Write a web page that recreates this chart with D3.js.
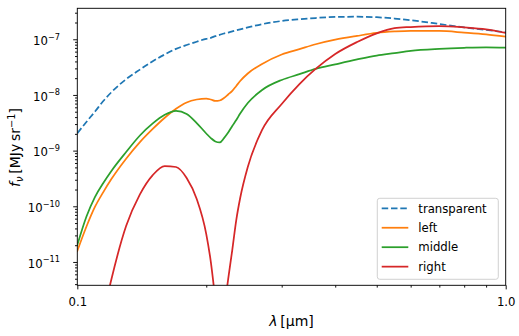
<!DOCTYPE html>
<html><head><meta charset="utf-8">
<script src="https://cdn.jsdelivr.net/npm/d3@7"></script>
<style>body{margin:0;background:#fff} svg{display:block} text{font-family:"DejaVu Sans",sans-serif;fill:#000}</style>
</head><body><svg id="c" width="519" height="336"></svg>
<script>
// wavelength grid in micrometres
const wavelength = [0.1,0.105,0.11,0.115,0.12,0.13,0.14,0.15,0.16,0.17,0.18,0.19,0.2,0.205,0.21,0.215,0.22,0.225,0.23,0.235,0.24,0.25,0.27,0.3,0.33,0.36,0.4,0.45,0.5,0.55,0.6,0.7,0.8,0.9,1.0];
const transparentFlux = [2.05e-9,3.27e-9,5.04e-9,7.79e-9,1.11e-8,1.92e-8,2.85e-8,4.03e-8,5.33e-8,6.72e-8,7.90e-8,9.02e-8,1.02e-7,1.06e-7,1.14e-7,1.20e-7,1.27e-7,1.32e-7,1.39e-7,1.45e-7,1.51e-7,1.63e-7,1.87e-7,2.13e-7,2.29e-7,2.41e-7,2.52e-7,2.54e-7,2.49e-7,2.36e-7,2.20e-7,1.88e-7,1.63e-7,1.47e-7,1.34e-7];
const leftFlux = [1.57e-11,4.29e-11,9.82e-11,1.80e-10,3.05e-10,7.15e-10,1.42e-9,2.45e-9,3.89e-9,5.64e-9,7.32e-9,8.28e-9,8.63e-9,8.28e-9,7.79e-9,7.95e-9,8.82e-9,1.02e-8,1.18e-8,1.45e-8,1.78e-8,2.43e-8,3.60e-8,5.33e-8,6.64e-8,8.13e-8,9.83e-8,1.15e-7,1.30e-7,1.38e-7,1.42e-7,1.41e-7,1.32e-7,1.23e-7,1.12e-7];
const middleFlux = [2.01e-11,6.49e-11,1.48e-10,2.62e-10,4.27e-10,9.44e-10,1.87e-9,3.08e-9,4.40e-9,5.19e-9,4.55e-9,3.13e-9,2.03e-9,1.68e-9,1.46e-9,1.40e-9,1.68e-9,2.11e-9,2.77e-9,3.55e-9,4.64e-9,7.17e-9,1.23e-8,1.86e-8,2.36e-8,2.93e-8,3.54e-8,4.34e-8,5.10e-8,5.65e-8,6.21e-8,6.75e-8,7.04e-8,7.18e-8,7.06e-8];
const rightFlux = [null,null,null,1.11e-12,4.73e-12,4.42e-11,1.64e-10,3.64e-10,5.29e-10,5.08e-10,3.22e-10,1.35e-10,3.17e-11,9.96e-12,2.07e-12,3.95e-13,1.37e-12,4.93e-12,1.64e-11,5.66e-11,1.41e-10,5.08e-10,2.35e-9,6.88e-9,1.57e-8,2.93e-8,5.44e-8,8.94e-8,1.28e-7,1.58e-7,1.66e-7,1.73e-7,1.64e-7,1.51e-7,1.30e-7];
const seriesNames = ["transparent","left","middle","right"];
const seriesColors = ["#1f77b4","#ff7f0e","#2ca02c","#d62728"];
const xTickValues = [0.1,1.0];
const xTickLabels = ["0.1","1.0"];
const yTickExponents = [-11,-10,-9,-8,-7];

const series = [transparentFlux,leftFlux,middleFlux,rightFlux].map((vals,i)=>({
  name: seriesNames[i], color: seriesColors[i], dashed: i===0,
  points: wavelength.map((w,j)=>[w, vals[j]])
}));

const svg = d3.select("#c");
const L = 77.3, R = 505.7, T = 8.3, B = 285.3;
const x = d3.scaleLog().domain([0.1,1.0]).range([L,R]);
const y = d3.scaleLog().domain([3.81e-12,3.6e-7]).range([B,T]);

svg.append("defs").append("clipPath").attr("id","clip")
  .append("rect").attr("x",L).attr("y",T).attr("width",R-L).attr("height",B-T);

const line = d3.line().defined(d=>d[1]!=null)
  .x(d=>x(d[0])).y(d=>y(d[1])).curve(d3.curveMonotoneX);

const g = svg.append("g").attr("clip-path","url(#clip)");
series.forEach(s=>{
  g.append("path").attr("d", line(s.points)).attr("fill","none")
   .attr("stroke", s.color).attr("stroke-width",1.75)
   .attr("stroke-dasharray", s.dashed ? "6.5,2.8" : null)
   .attr("stroke-linecap", s.dashed ? "butt" : "square");
});

// axes
const tickW = 0.93;
const xMinor = d3.range(2,10).map(k=>k/10);
svg.append("g").attr("transform",`translate(0,${B})`)
  .call(d3.axisBottom(x).tickValues(xMinor).tickSize(2.3).tickFormat(""))
  .call(a=>{a.select(".domain").remove(); a.selectAll("line").attr("stroke-width",tickW);});
const xAx = svg.append("g").attr("transform",`translate(0,${B})`)
  .call(d3.axisBottom(x).tickValues(xTickValues).tickSize(4.1).tickPadding(3)
    .tickFormat((d,i)=>xTickLabels[i]));
xAx.select(".domain").remove();
xAx.selectAll("line").attr("stroke-width",tickW);
xAx.selectAll("text").attr("font-size","11.7px").attr("font-family","DejaVu Sans").attr("dy",null).attr("y",20.5);

const yMinor = [];
for (let e=-12;e<=-7;e++) for (let k=2;k<=9;k++){ const v=k*Math.pow(10,e); if (v>=3.81e-12 && v<=3.6e-7) yMinor.push(v); }
svg.append("g").attr("transform",`translate(${L},0)`)
  .call(d3.axisLeft(y).tickValues(yMinor).tickSize(2.3).tickFormat(""))
  .call(a=>{a.select(".domain").remove(); a.selectAll("line").attr("stroke-width",tickW);});
const yMajor = yTickExponents.map(e=>Math.pow(10,e));
const yAx = svg.append("g").attr("transform",`translate(${L},0)`)
  .call(d3.axisLeft(y).tickValues(yMajor).tickSize(4.1).tickFormat(""));
yAx.select(".domain").remove();
yAx.selectAll("line").attr("stroke-width",tickW);
yTickExponents.forEach(e=>{
  const t = svg.append("text").attr("x",60).attr("y",y(Math.pow(10,e))+5.6)
    .attr("text-anchor","end").attr("font-size","11.7px");
  t.append("tspan").text("10");
  t.append("tspan").attr("dy",-5.2).attr("font-size","8.2px").text("\u2212"+Math.abs(e));
});

// frame
svg.append("rect").attr("x",L).attr("y",T).attr("width",R-L).attr("height",B-T)
  .attr("fill","none").attr("stroke","#000").attr("stroke-width",tickW);

// axis labels
const xl = svg.append("text").attr("x",291.5).attr("y",326).attr("text-anchor","middle").attr("font-size","14px");
xl.append("tspan").attr("font-style","italic").text("\u03bb");
xl.append("tspan").text("\u2009[\u03bcm]");

const yl = svg.append("text").attr("transform","translate(20,147.5) rotate(-90)")
  .attr("text-anchor","middle").attr("font-size","14px");
yl.append("tspan").attr("font-style","italic").text("f");
yl.append("tspan").attr("font-style","italic").attr("font-size","9.8px").attr("dy",3).text("\u03bd");
yl.append("tspan").attr("dy",-3).text("\u2009[MJy\u2009sr");
yl.append("tspan").attr("dy",-5.5).attr("font-size","9.8px").text("\u22121");
yl.append("tspan").attr("dy",5.5).text("]");

// legend
const lg = svg.append("g");
lg.append("rect").attr("x",377.3).attr("y",198.3).attr("width",121).attr("height",81)
  .attr("rx",2.5).attr("fill","#fff").attr("fill-opacity",0.8).attr("stroke","#cccccc").attr("stroke-width",0.93);
series.forEach((s,i)=>{
  const cy = 208.3 + i*19.45;
  lg.append("line").attr("x1",381.7).attr("x2",408.3).attr("y1",cy).attr("y2",cy)
    .attr("stroke",s.color).attr("stroke-width",1.75)
    .attr("stroke-dasharray", s.dashed ? "6.5,2.8" : null);
  lg.append("text").attr("x",418.3).attr("y",cy+4.2).attr("font-size","11.7px").text(s.name);
});
</script></body></html>
